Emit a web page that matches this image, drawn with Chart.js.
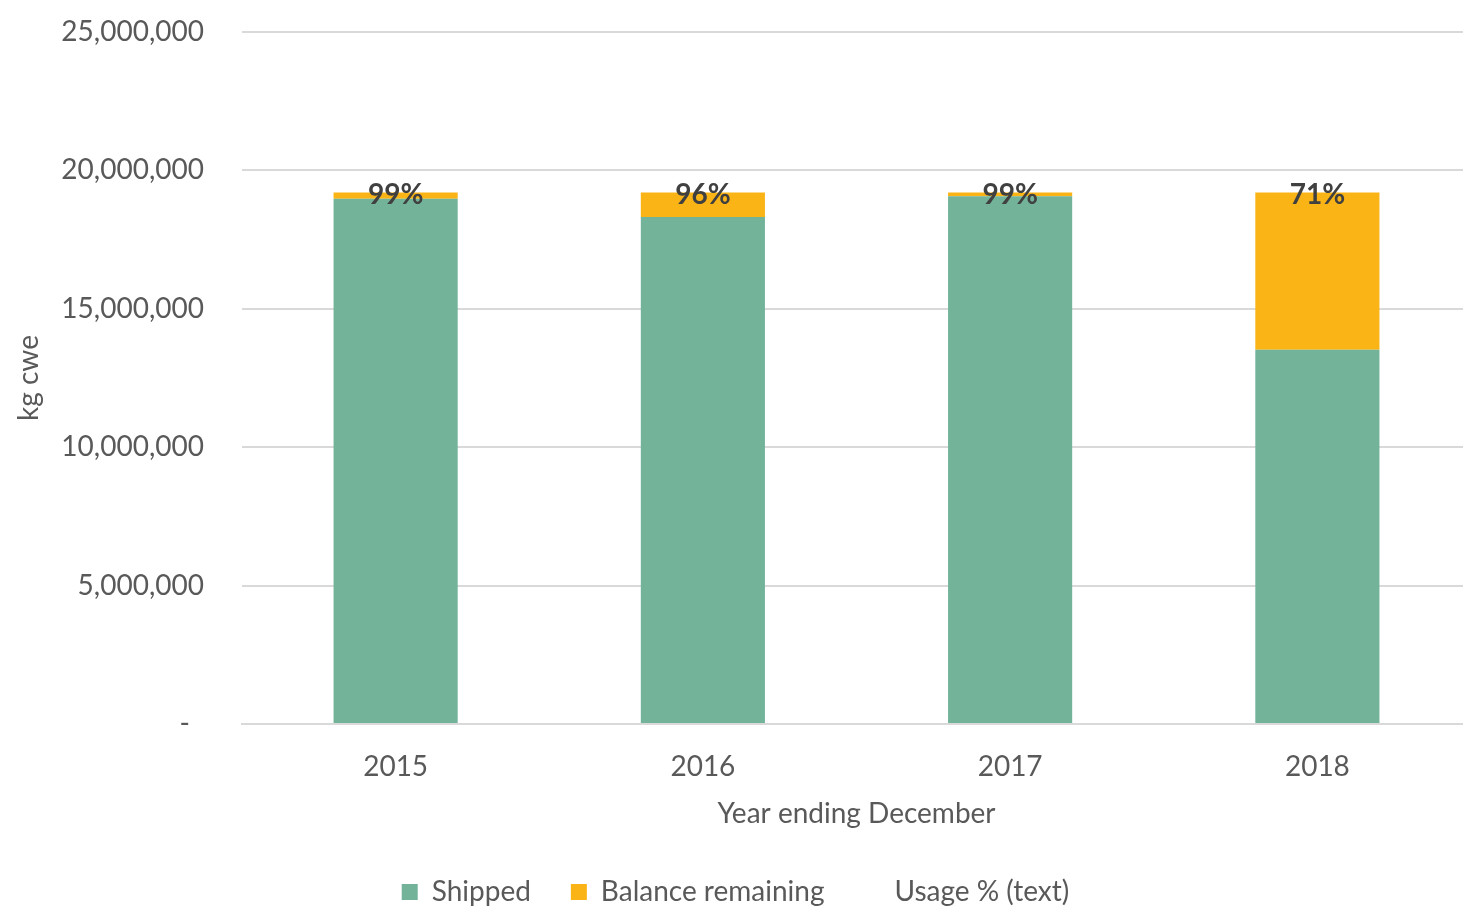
<!DOCTYPE html>
<html>
<head>
<meta charset="utf-8">
<script src="https://cdn.jsdelivr.net/npm/chart.js@4/dist/chart.umd.min.js"></script>
<style>
  html, body { margin: 0; padding: 0; background: #fff; overflow: hidden; }
  #wrap { width: 1471px; height: 916px; position: relative; }
</style>
</head>
<body>
<div id="wrap"><canvas id="grafico"></canvas></div>
<script>
// datos
const anios = ['2015', '2016', '2017', '2018'];
const enviado = [18980000, 18320000, 19070000, 13520000];
const saldo = [220000, 880000, 130000, 5680000];
const usoTexto = ['99%', '96%', '99%', '71%'];
const ticksY = [0, 5000000, 10000000, 15000000, 20000000, 25000000];

const VERDE = '#72b39a';
const NARANJA = '#fbb415';
const GRIS_TEXTO = '#595959';
const GRIS_LINEA = '#d9d9d9';

// etiquetas de porcentaje encima de cada columna
const etiquetasUso = {
  id: 'etiquetasUso',
  afterDatasetsDraw(chart) {
    const meta = chart.getDatasetMeta(1);
    const ctx = chart.ctx;
    ctx.save();
    ctx.font = 'bold 28px Lato';
    ctx.fillStyle = '#404040';
    ctx.textAlign = 'center';
    ctx.textBaseline = 'middle';
    meta.data.forEach((barra, i) => {
      ctx.fillText(usoTexto[i], barra.x, barra.y + 2);
    });
    ctx.restore();
  }
};

Chart.defaults.font.family = 'Lato';
Chart.defaults.font.size = 28;
Chart.defaults.color = GRIS_TEXTO;

new Chart(document.getElementById('grafico'), {
  type: 'bar',
  data: {
    labels: anios,
    datasets: [
      {
        label: 'Shipped',
        data: enviado,
        backgroundColor: VERDE,
        borderWidth: 0,
        barPercentage: 0.404,
        categoryPercentage: 1
      },
      {
        label: 'Balance remaining',
        data: saldo,
        backgroundColor: NARANJA,
        borderWidth: 0,
        barPercentage: 0.404,
        categoryPercentage: 1
      },
      {
        type: 'line',
        label: 'Usage % (text)',
        data: [],
        backgroundColor: 'rgba(0,0,0,0)',
        borderColor: 'rgba(0,0,0,0)',
        borderWidth: 0,
        pointRadius: 0
      }
    ]
  },
  options: {
    responsive: true,
    maintainAspectRatio: false,
    animation: false,
    layout: { padding: { top: 32, right: 0, left: 0, bottom: 0 } },
    plugins: {
      legend: {
        position: 'bottom',
        labels: {
          boxWidth: 16,
          boxHeight: 16,
          padding: 40,
          color: GRIS_TEXTO,
          font: { size: 28 }
        }
      },
      tooltip: { enabled: false }
    },
    scales: {
      x: {
        stacked: true,
        grid: { display: false, drawTicks: false },
        border: { display: true, color: GRIS_LINEA, width: 2 },
        ticks: { padding: 26, color: GRIS_TEXTO },
        title: {
          display: true,
          text: 'Year ending December',
          color: GRIS_TEXTO,
          font: { size: 28 },
          padding: { top: 0, bottom: 7 }
        },
        afterFit(escala) { escala.height = 114; }
      },
      y: {
        stacked: true,
        min: 0,
        max: 25000000,
        afterBuildTicks(escala) {
          escala.ticks = ticksY.map(v => ({ value: v }));
        },
        grid: {
          color: GRIS_LINEA,
          lineWidth: 2,
          drawTicks: true,
          tickLength: 38,
          tickColor: 'rgba(0,0,0,0)'
        },
        border: { display: false },
        ticks: {
          padding: 0,
          color: GRIS_TEXTO,
          callback(v) {
            return v === 0 ? '-\u2002' : v.toLocaleString('en-US');
          }
        },
        title: {
          display: true,
          text: 'kg cwe',
          color: GRIS_TEXTO,
          font: { size: 28 },
          padding: { top: 12, bottom: 0 }
        },
        afterFit(escala) { escala.width = 242; }
      }
    }
  },
  plugins: [etiquetasUso]
});
</script>
</body>
</html>
